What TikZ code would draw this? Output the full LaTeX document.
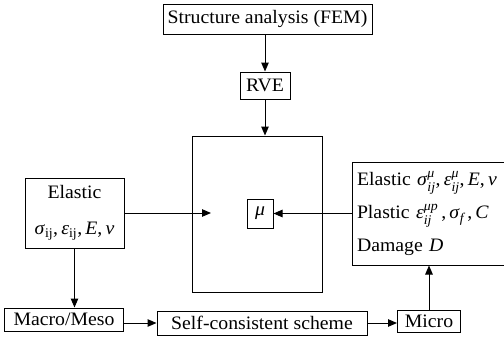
\documentclass[tikz,border=0pt]{standalone}
\usepackage{amsmath}
\usepackage{fontspec}
\setmainfont[FakeStretch=1.04]{Liberation Serif}
\usetikzlibrary{arrows.meta}
\begin{document}
\begin{tikzpicture}[x=1pt,y=-1pt,
  box/.style={draw,line width=1pt,inner sep=0pt,align=center,font=\fontsize{19}{23}\selectfont},
  arr/.style={line width=1pt,-{Triangle[length=9pt,width=7.5pt]}}]
\clip (0,0) rectangle (504,346);
\node[box,minimum width=209pt,minimum height=30pt] (fem) at (267.5,19) {Structure analysis (FEM)};
\node[box,minimum width=50pt,minimum height=27pt] (rve) at (265,85.5) {RVE};
\node[box,minimum width=130pt,minimum height=156pt] (big) at (257,214) {};
\node[box,minimum width=26pt,minimum height=29pt] (mu) at (260,213.5) {\textit{μ}};
\node[box,minimum width=156pt,minimum height=103pt,align=left,inner xsep=5pt,text width=146pt,
      font=\fontsize{19}{33}\selectfont] (rb) at (430,213.5)
  {\mbox{Elastic \textit{σ}$^{\text{\itshape μ}}_{\text{\itshape ij}}$,\,\textit{ε}$^{\text{\itshape μ}}_{\text{\itshape ij}}$,\,\textit{E},\,\textit{ν}}\\
   \mbox{Plastic \textit{ε}$^{\text{\itshape μp}}_{\text{\itshape ij}}$\,,\,\textit{σ}$_{\text{\itshape f}}$\,,\,\textit{C}}\\
   \mbox{Damage \textit{D}}};
\node[box,minimum width=99pt,minimum height=70pt,font=\fontsize{19}{36}\selectfont] (lb) at (74.5,213)
  {Elastic\\ \textit{σ}$_{\text{ij}}$,\,\textit{ε}$_{\text{ij}}$,\,\textit{E},\,\textit{ν}};
\node[box,minimum width=119pt,minimum height=23pt] (macro) at (64,319.5) {Macro/Meso};
\node[box,minimum width=210pt,minimum height=24pt] (scs) at (262,323) {Self-consistent scheme};
\node[box,minimum width=63pt,minimum height=22pt] (micro) at (429,321) {Micro};
\coordinate (lend) at (211,213);
\draw[arr] (rve.north |- fem.south) -- (rve.north);
\draw[arr] (rve.south) -- (rve.south |- big.north);
\draw[arr] (lb.east |- lend) -- (lend);
\draw[arr] (rb.west |- mu.east) -- (mu.east);
\draw[arr] (lb.south) -- (lb.south |- macro.north);
\draw[arr] (macro.east |- scs.west) -- (scs.west);
\draw[arr] (scs.east) -- (micro.west |- scs.east);
\draw[arr] (micro.north) -- (micro.north |- rb.south);
\end{tikzpicture}
\end{document}
